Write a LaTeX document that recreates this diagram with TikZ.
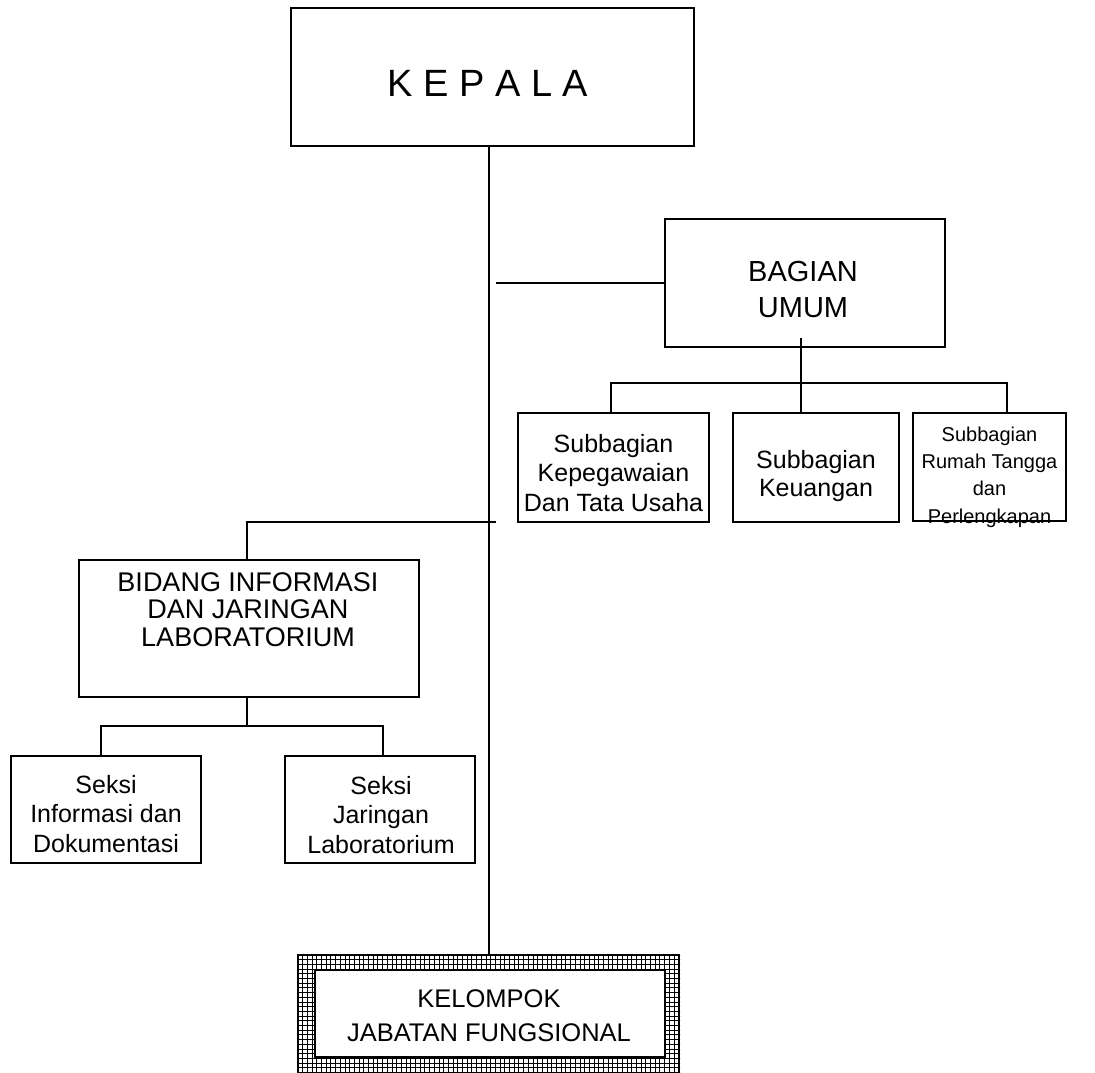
\documentclass[tikz,border=0pt]{standalone}
\usepackage{fontspec}
\setmainfont{Liberation Sans}
\begin{document}
\begin{tikzpicture}[x=1pt,y=-1pt,
  box/.style={draw=black,line width=1.9pt,rectangle,inner sep=0pt},
  conn/.style={draw=black,line width=1.9pt},
  txt/.style={inner sep=0pt,align=center,text=black},
  gridline/.style={draw=black,line width=0.9pt}]
\useasboundingbox (0,0) rectangle (1095,1073);
\clip (0,0) rectangle (1095,1073);

% boxes
\node[box,minimum width=403pt,minimum height=138pt] (kepala) at (492.5,77) {};
\node[txt,font=\fontsize{38}{44}\selectfont] (kepalaT) at (488,83) {K E P A L A};

\node[box,minimum width=280pt,minimum height=128pt] (umum) at (805,283) {};
\node[txt,font=\fontsize{29}{36}\selectfont] (umumT) at (803,290) {BAGIAN\\UMUM};

\node[box,minimum width=191pt,minimum height=109pt] (sub1) at (613.5,467.5) {};
\node[txt,font=\fontsize{25}{29.5}\selectfont] (sub1T) at (613.5,473) {Subbagian\\Kepegawaian\\Dan Tata Usaha};

\node[box,minimum width=166pt,minimum height=109pt] (sub2) at (816,467.5) {};
\node[txt,font=\fontsize{25}{28.5}\selectfont] (sub2T) at (816,476) {Subbagian\\Keuangan};

\node[txt,font=\fontsize{20}{27.3}\selectfont] (sub3T) at (989.5,477) {Subbagian\\Rumah Tangga\\dan\\Perlengkapan};
\node[box,minimum width=153pt,minimum height=108pt] (sub3) at (989.5,467) {};

\node[box,minimum width=340pt,minimum height=137pt] (bidang) at (249,628.5) {};
\node[txt,font=\fontsize{27}{27.5}\selectfont] (bidangT) at (248,609.5) {BIDANG INFORMASI\\DAN JARINGAN\\LABORATORIUM};

\node[box,minimum width=190pt,minimum height=107pt] (seksi1) at (106,809.5) {};
\node[txt,font=\fontsize{25}{29.5}\selectfont] (seksi1T) at (106,814) {Seksi\\Informasi dan\\Dokumentasi};

\node[box,minimum width=190pt,minimum height=107pt] (seksi2) at (380,809.5) {};
\node[txt,font=\fontsize{25}{29.5}\selectfont] (seksi2T) at (381,815) {Seksi\\Jaringan\\Laboratorium};

% kelompok with grid frame (bottom edge runs off the page)
\node[draw=black,line width=2pt,rectangle,inner sep=0pt,minimum width=381pt,minimum height=127pt] (kel) at (488.5,1018.5) {};
\begin{scope}
  \clip (kel.south west) rectangle (kel.north east);
  \foreach \i in {0,...,84} { \draw[gridline] (298+\i*4.7,950) -- (298+\i*4.7,1090); }
  \foreach \j in {0,...,29} { \draw[gridline] (295,955+\j*4.7) -- (685,955+\j*4.7); }
\end{scope}
\node[draw=black,line width=2pt,rectangle,inner sep=0pt,minimum width=381pt,minimum height=127pt] (kelB) at (488.5,1018.5) {};
\node[box,fill=white,minimum width=350pt,minimum height=87pt] (kelin) at (490,1013.5) {};
\node[txt,font=\fontsize{25.5}{34}\selectfont] (kelT) at (489,1016) {KELOMPOK\\JABATAN FUNGSIONAL};

% connectors
\coordinate (trunk) at (489,146);
\draw[conn] (trunk) -- (trunk |- kel.north);

\coordinate (j1) at (496,283);
\draw[conn] (j1) -- (j1 -| umum.west);

\coordinate (ub) at (801,338);
\coordinate (bl) at (611,383);
\coordinate (br) at (1007,383);
\draw[conn] (ub) -- (ub |- sub2.north);
\draw[conn] (bl |- sub1.north) -- (bl) -- (br) -- (br |- sub3.north);

\coordinate (j2) at (496,522);
\coordinate (bv) at (247,522);
\draw[conn] (j2) -- (bv) -- (bv |- bidang.north);

\coordinate (bs) at (247,697);
\coordinate (sl) at (101,726);
\coordinate (sr) at (383,726);
\draw[conn] (bs) -- (bs |- sl);
\draw[conn] (sl |- seksi1.north) -- (sl) -- (sr) -- (sr |- seksi2.north);
\end{tikzpicture}
\end{document}
